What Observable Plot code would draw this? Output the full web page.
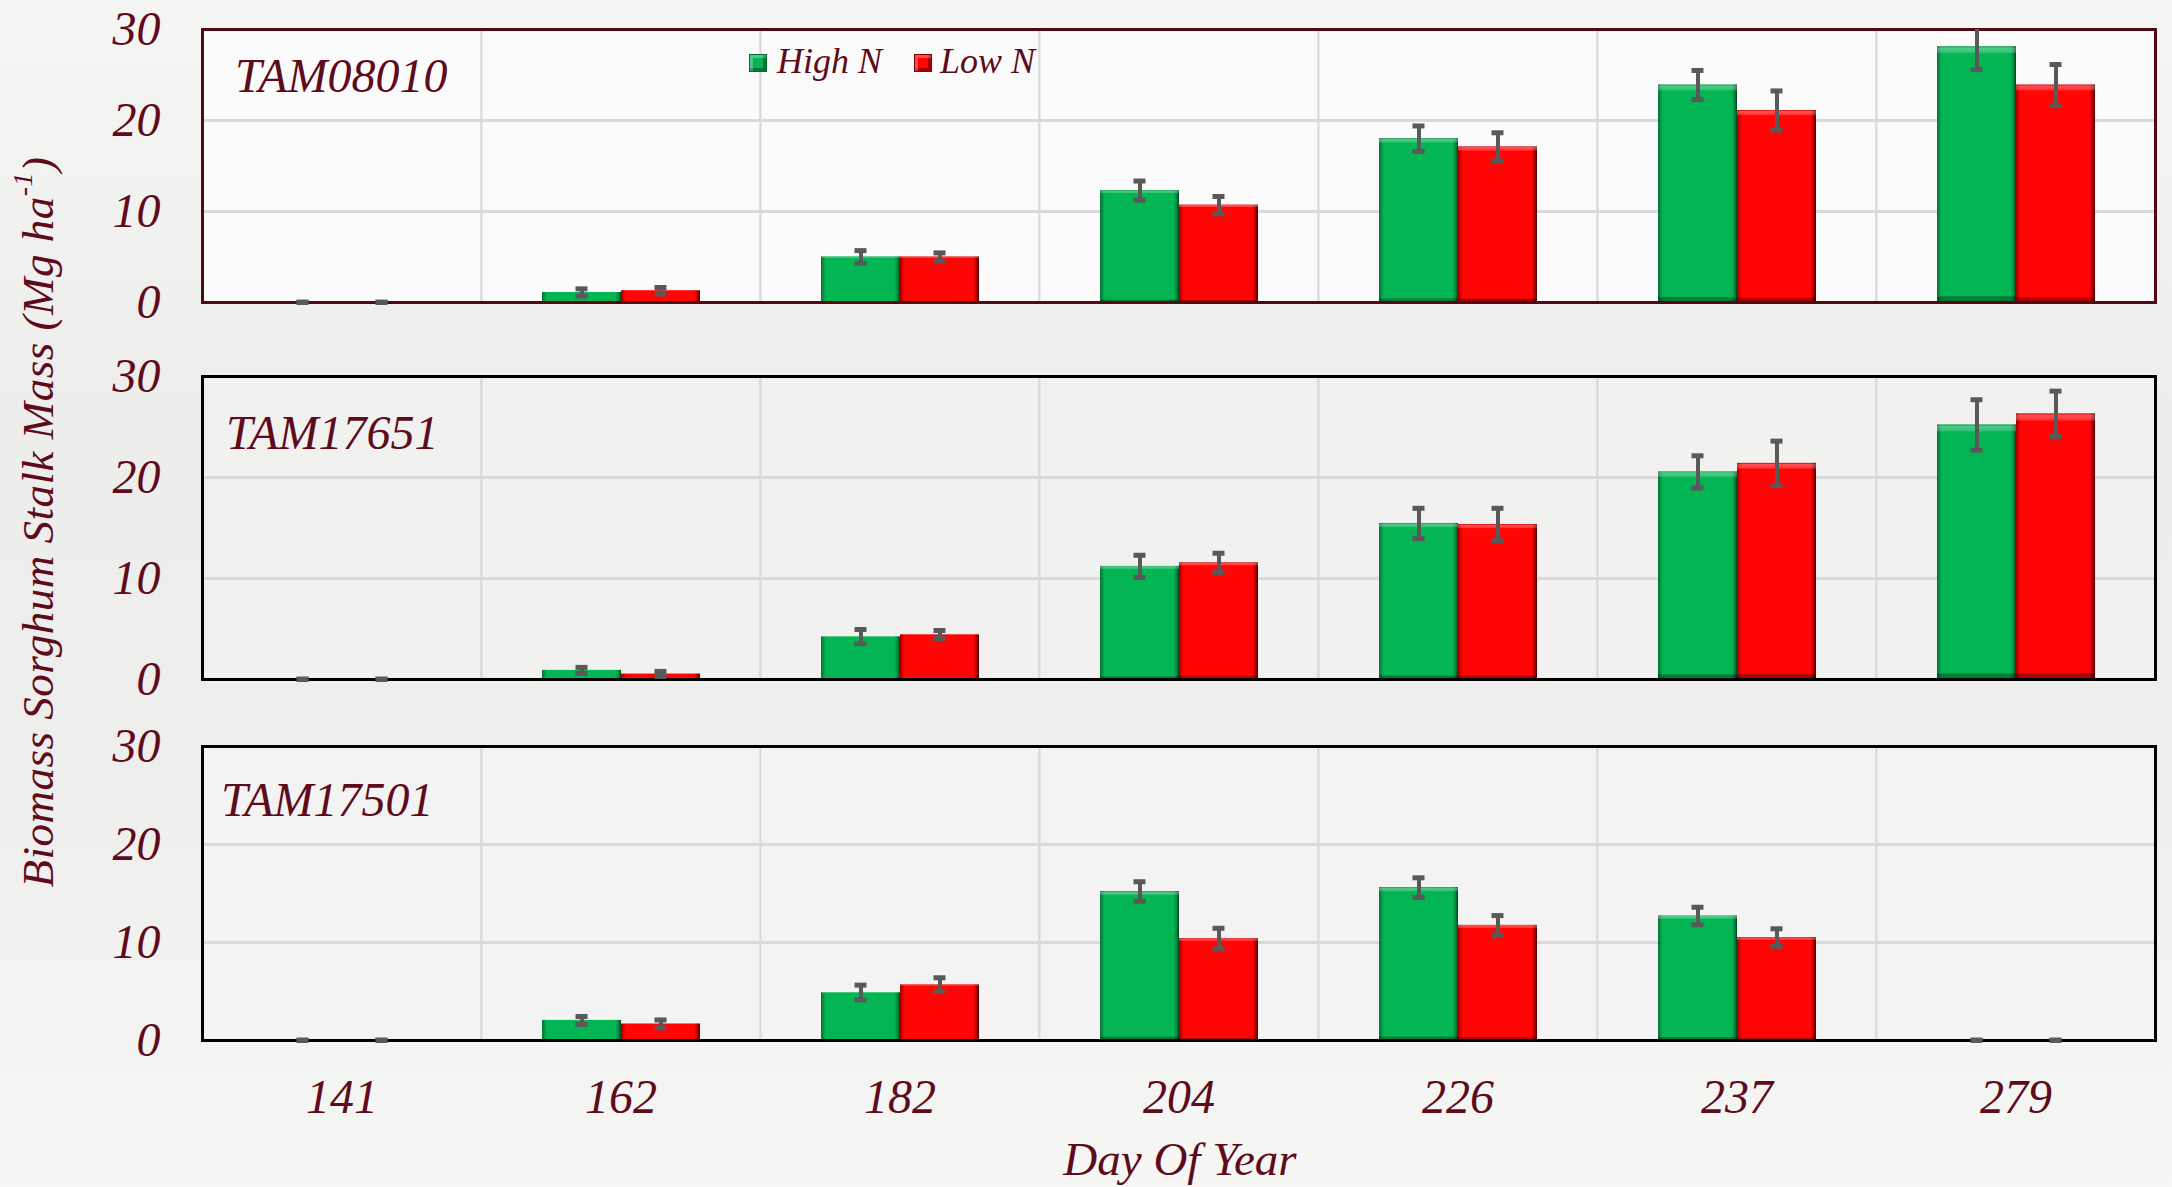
<!DOCTYPE html>
<html>
<head>
<meta charset="utf-8">
<script src="https://cdn.jsdelivr.net/npm/d3@7"></script>
<script src="https://cdn.jsdelivr.net/npm/@observablehq/plot@0.6"></script>
<style>
  body { margin: 0; background: #f1f1ef; }
  #chart {
    position: relative; width: 2172px; height: 1187px; overflow: hidden;
    background: linear-gradient(to bottom, #f5f5f3 0%, #ededeb 35%, #eeeeec 65%, #f6f6f5 100%);
    font-family: "Liberation Serif", "Times New Roman", serif; font-style: italic; color: #5e0b1c;
  }
  #chart svg.plot { position: absolute; left: 0; overflow: visible; }
  .txt { position: absolute; line-height: 1; white-space: nowrap; }
  .sw { position: absolute; width: 18px; height: 18px; box-sizing: border-box;
        box-shadow: inset 3px 3px 0 rgba(255,255,255,0.28), inset -3px -3px 0 rgba(0,0,0,0.35); }
</style>
</head>
<body>
<svg width="0" height="0" style="position:absolute">
  <defs>
    <linearGradient id="fillHigh" x1="0" x2="1" y1="0" y2="0">
      <stop offset="0" stop-color="#0a6b35"/>
      <stop offset="0.03" stop-color="#049447"/>
      <stop offset="0.06" stop-color="#03b553"/>
      <stop offset="0.93" stop-color="#03b553"/>
      <stop offset="0.97" stop-color="#028a3e"/>
      <stop offset="1" stop-color="#023d1d"/>
    </linearGradient>
    <linearGradient id="fillLow" x1="0" x2="1" y1="0" y2="0">
      <stop offset="0" stop-color="#9a0000"/>
      <stop offset="0.03" stop-color="#d80000"/>
      <stop offset="0.06" stop-color="#ff0505"/>
      <stop offset="0.93" stop-color="#ff0505"/>
      <stop offset="0.97" stop-color="#b00000"/>
      <stop offset="1" stop-color="#4a0000"/>
    </linearGradient>
    <linearGradient id="bevel" x1="0" x2="0" y1="0" y2="1">
      <stop offset="0" stop-color="#000" stop-opacity="0.15"/>
      <stop offset="0.006" stop-color="#fff" stop-opacity="0.3"/>
      <stop offset="0.022" stop-color="#fff" stop-opacity="0.22"/>
      <stop offset="0.03" stop-color="#fff" stop-opacity="0"/>
      <stop offset="0.975" stop-color="#000" stop-opacity="0"/>
      <stop offset="0.98" stop-color="#000" stop-opacity="0.3"/>
      <stop offset="1" stop-color="#000" stop-opacity="0.35"/>
    </linearGradient>
  </defs>
</svg>
<div id="chart"></div>
<script>
// Sampling days (day of year)
const days = ["141", "162", "182", "204", "226", "237", "279"];
const seriesNames = ["High N", "Low N"];
const yTicks = [0, 10, 20, 30];

// TAM08010 stalk mass (Mg/ha) and error
const tam08010High = [0, 1.1, 5.0, 12.3, 18.0, 23.9, 28.1];
const tam08010HighErr = [0.05, 0.4, 0.7, 1.05, 1.4, 1.6, 2.5];
const tam08010Low = [0, 1.3, 5.0, 10.7, 17.1, 21.1, 23.9];
const tam08010LowErr = [0.05, 0.35, 0.45, 0.95, 1.55, 2.15, 2.25];

// TAM17651
const tam17651High = [0, 0.9, 4.25, 11.2, 15.45, 20.55, 25.2];
const tam17651HighErr = [0.05, 0.3, 0.7, 1.1, 1.5, 1.6, 2.5];
const tam17651Low = [0, 0.55, 4.45, 11.55, 15.35, 21.4, 26.3];
const tam17651LowErr = [0.05, 0.25, 0.4, 0.95, 1.6, 2.2, 2.25];

// TAM17501
const tam17501High = [0, 2.05, 4.9, 15.2, 15.6, 12.7, 0];
const tam17501HighErr = [0.05, 0.4, 0.75, 1.0, 1.0, 0.9, 0.05];
const tam17501Low = [0, 1.7, 5.7, 10.4, 11.75, 10.5, 0];
const tam17501LowErr = [0.05, 0.4, 0.7, 1.05, 1.0, 0.9, 0.05];

const ink = "#5e0b1c";
const panels = [
  {name: "TAM08010", high: tam08010High, highErr: tam08010HighErr, low: tam08010Low, lowErr: tam08010LowErr,
   top: 29, h: 273, bg: "#fbfbfb", edge: "#4f0a12", nameLeft: 235, nameBase: 92},
  {name: "TAM17651", high: tam17651High, highErr: tam17651HighErr, low: tam17651Low, lowErr: tam17651LowErr,
   top: 376, h: 303, bg: "#f1f1f0", edge: "#000", nameLeft: 226, nameBase: 449},
  {name: "TAM17501", high: tam17501High, highErr: tam17501HighErr, low: tam17501Low, lowErr: tam17501LowErr,
   top: 746, h: 294, bg: "#f3f3f3", edge: "#000", nameLeft: 221, nameBase: 816}
];

const chart = document.getElementById("chart");
const mt = 30;

function addText(text, left, baseline, size, extra = {}) {
  const el = document.createElement("div");
  el.className = "txt";
  el.textContent = text;
  el.style.fontSize = size + "px";
  el.style.left = left + "px";
  el.style.top = (baseline - 0.8375 * size) + "px";
  Object.assign(el.style, extra);
  chart.appendChild(el);
  return el;
}

panels.forEach((p, i) => {
  const last = i === panels.length - 1;
  const mb = last ? 120 : 30;
  const rows = days.flatMap((d, k) => [
    {day: d, series: "High N", value: p.high[k], err: p.highErr[k]},
    {day: d, series: "Low N", value: p.low[k], err: p.lowErr[k]}
  ]);
  const high = rows.filter(d => d.series === "High N");
  const low = rows.filter(d => d.series === "Low N");
  const lo = d => Math.max(0, d.value - d.err);
  const hi = d => d.value + d.err;

  const svg = Plot.plot({
    width: 2172,
    height: mt + p.h + mb,
    marginLeft: 201, marginRight: 17, marginTop: mt, marginBottom: mb,
    style: {
      background: "transparent", color: ink, fontSize: "48px",
      fontFamily: "'Liberation Serif', 'Times New Roman', serif", fontStyle: "italic", overflow: "visible"
    },
    fx: {domain: days, padding: 0, axis: last ? "bottom" : null, label: null, tickSize: 0, tickPadding: 38},
    x: {domain: seriesNames, paddingInner: 0, paddingOuter: 0.755, axis: null},
    y: {domain: [0, 30], ticks: yTicks, tickSize: 0, tickPadding: 42, label: null},
    marks: [
      Plot.frame({fill: p.bg, stroke: "#d9d9d9", strokeWidth: 2}),
      Plot.ruleY(yTicks.slice(1, -1), {stroke: "#d9d9d9", strokeWidth: 3}),
      Plot.barY(high, {fx: "day", x: "series", y: "value", fill: "url(#fillHigh)"}),
      Plot.barY(low, {fx: "day", x: "series", y: "value", fill: "url(#fillLow)"}),
      Plot.barY(rows, {fx: "day", x: "series", y: "value", fill: "url(#bevel)"}),
      Plot.ruleY([0], {stroke: p.edge, strokeWidth: 3}),
      Plot.frame({facet: "super", stroke: p.edge, strokeWidth: 3}),
      Plot.ruleX(rows, {fx: "day", x: "series", y1: lo, y2: hi, stroke: "#595959", strokeWidth: 4, clip: true}),
      Plot.tickY(rows, {fx: "day", x: "series", y: hi, stroke: "#595959", strokeWidth: 5, insetLeft: 33.5, insetRight: 33.5, clip: true}),
      Plot.tickY(rows, {fx: "day", x: "series", y: lo, stroke: "#595959", strokeWidth: 5, insetLeft: 33.5, insetRight: 33.5})
    ]
  });
  svg.classList.add("plot");
  svg.style.top = (p.top - mt) + "px";
  chart.appendChild(svg);

  addText(p.name, p.nameLeft, p.nameBase, 48);
});

// Legend inside the first panel
const legend = [["High N", "#03b553", "#026b30", 749, 777], ["Low N", "#ff0505", "#8a0000", 914, 940]];
legend.forEach(([label, color, border, sx, tx]) => {
  const sw = document.createElement("div");
  sw.className = "sw";
  sw.style.left = sx + "px";
  sw.style.top = "54px";
  sw.style.background = color;
  sw.style.border = "1px solid " + border;
  chart.appendChild(sw);
  addText(label, tx, 73, 36);
});

// Axis titles
const xt = addText("Day Of Year", 1180, 1175, 47);
xt.style.transform = "translateX(-50%)";

const yt = document.createElement("div");
yt.className = "txt";
yt.style.fontSize = "45px";
yt.style.letterSpacing = "0.5px";
yt.style.left = "35px";
yt.style.top = "522px";
yt.style.transform = "translate(-50%, -50%) rotate(-90deg)";
yt.innerHTML = 'Biomass Sorghum Stalk Mass (Mg ha<span style="font-size:0.62em;vertical-align:0.75em">-1</span>)';
chart.appendChild(yt);
</script>
</body>
</html>
